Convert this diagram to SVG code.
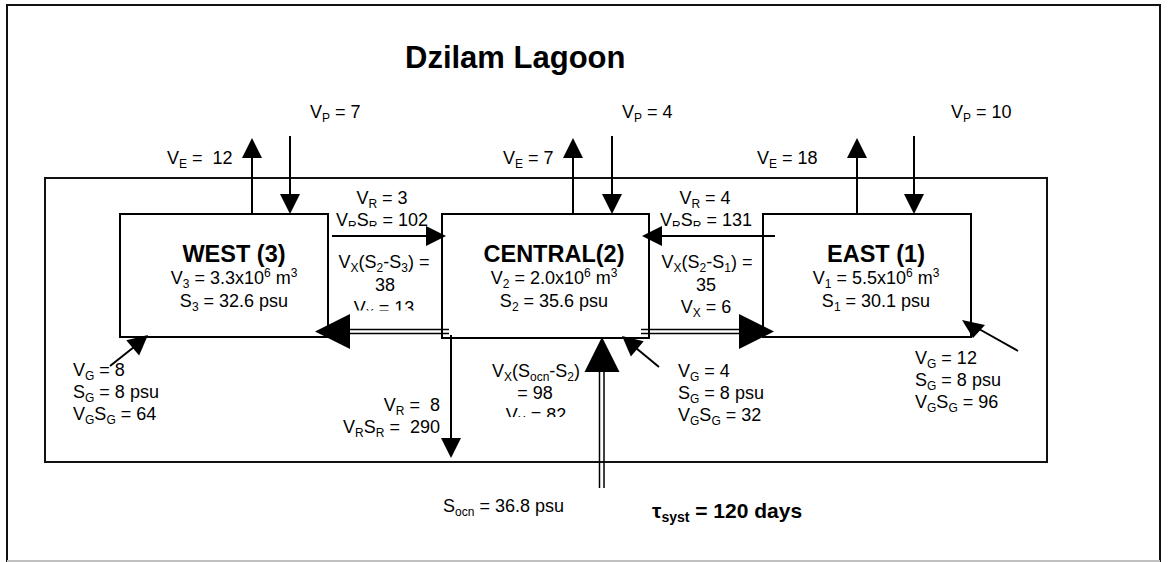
<svg xmlns="http://www.w3.org/2000/svg" xmlns:xlink="http://www.w3.org/1999/xlink" width="1169" height="562" viewBox="0 0 1169 562">
<style>
text{font-family:"Liberation Sans",Arial,Helvetica,sans-serif;font-size:18px;fill:#000;white-space:pre}
.b{font-weight:bold;font-size:23.5px}
.title{font-weight:bold;font-size:31px}
.tau{font-weight:bold;font-size:21px}
.s{font-size:12px}
.sb{font-size:14px}
.m{text-anchor:middle}
.e{text-anchor:end}
.box{fill:#fff;stroke:#000;stroke-width:2}
.ln{fill:none;stroke:#000;stroke-width:2}
.dl{fill:none;stroke:#000;stroke-width:1.5}
.frame{fill:none;stroke:#111;stroke-width:2}
.ah{fill:#000}
</style>
<defs>
<path id="ah" d="M0,0 L-20,-10 L-20,10 Z"/>
<path id="ahb" d="M0,0 L-35,-17.5 L-35,17.5 Z"/>
<clipPath id="c102"><rect x="300" y="180" width="160" height="46.5"/></clipPath>
<clipPath id="c131"><rect x="640" y="180" width="140" height="46.5"/></clipPath>
<clipPath id="c13"><rect x="320" y="240" width="130" height="70.5"/></clipPath>
<clipPath id="c82"><rect x="470" y="350" width="130" height="67"/></clipPath>
</defs>
<rect width="1169" height="562" fill="#fff"/>
<g id="frame">
<path class="frame" d="M7,562 V5 H1160 V562"/>
<line x1="7" y1="561" x2="1160" y2="561" stroke="#c0c0c0" stroke-width="2"/>
<rect class="frame" x="45" y="178" width="1002" height="284"/>
</g>
<text id="title" class="title" x="405" y="68">Dzilam Lagoon</text>
<g id="west">
<rect class="box" x="120" y="214" width="208" height="123"/>
<text class="b m" x="234" y="262">WEST (3)</text>
<text class="m" x="234" y="284">V<tspan class="s" dy="4">3</tspan><tspan dy="-4"> = 3.3x10</tspan><tspan class="s" dy="-7">6</tspan><tspan dy="7"> m</tspan><tspan class="s" dy="-7">3</tspan></text>
<text class="m" x="234" y="307">S<tspan class="s" dy="4">3</tspan><tspan dy="-4"> = 32.6 psu</tspan></text>
</g>
<g id="central">
<rect class="box" x="442" y="214" width="207" height="124"/>
<text class="b m" x="554" y="262">CENTRAL(2)</text>
<text class="m" x="554" y="284">V<tspan class="s" dy="4">2</tspan><tspan dy="-4"> = 2.0x10</tspan><tspan class="s" dy="-7">6</tspan><tspan dy="7"> m</tspan><tspan class="s" dy="-7">3</tspan></text>
<text class="m" x="554" y="307">S<tspan class="s" dy="4">2</tspan><tspan dy="-4"> = 35.6 psu</tspan></text>
</g>
<g id="east">
<rect class="box" x="763" y="214" width="208" height="123"/>
<text class="b m" x="876" y="262">EAST (1)</text>
<text class="m" x="876" y="284">V<tspan class="s" dy="4">1</tspan><tspan dy="-4"> = 5.5x10</tspan><tspan class="s" dy="-7">6</tspan><tspan dy="7"> m</tspan><tspan class="s" dy="-7">3</tspan></text>
<text class="m" x="876" y="307">S<tspan class="s" dy="4">1</tspan><tspan dy="-4"> = 30.1 psu</tspan></text>
</g>
<g id="connectors">
<!-- evaporation / precipitation -->
<line class="ln" x1="252" y1="214" x2="252" y2="156"/>
<use href="#ah" class="ah" transform="translate(252,138) rotate(-90)"/>
<line class="ln" x1="290" y1="136" x2="290" y2="196"/>
<use href="#ah" class="ah" transform="translate(290,214) rotate(90)"/>
<line class="ln" x1="573" y1="214" x2="573" y2="156"/>
<use href="#ah" class="ah" transform="translate(573,138) rotate(-90)"/>
<line class="ln" x1="612" y1="136" x2="612" y2="196"/>
<use href="#ah" class="ah" transform="translate(612,214) rotate(90)"/>
<line class="ln" x1="857" y1="214" x2="857" y2="156"/>
<use href="#ah" class="ah" transform="translate(857,138) rotate(-90)"/>
<line class="ln" x1="914" y1="136" x2="914" y2="196"/>
<use href="#ah" class="ah" transform="translate(914,214) rotate(90)"/>
<!-- residual flows -->
<line class="ln" x1="332" y1="236" x2="428" y2="236"/>
<use href="#ah" class="ah" transform="translate(446,236)"/>
<line class="ln" x1="775" y1="236" x2="660" y2="236"/>
<use href="#ah" class="ah" transform="translate(642,236) rotate(180)"/>
<line class="ln" x1="451" y1="335" x2="451" y2="440"/>
<use href="#ah" class="ah" transform="translate(451,458) rotate(90)"/>
<!-- exchange flows -->
<line class="dl" x1="349" y1="329.5" x2="449" y2="329.5"/>
<line class="dl" x1="349" y1="333.5" x2="449" y2="333.5"/>
<use href="#ahb" class="ah" transform="translate(315,331.5) rotate(180)"/>
<line class="dl" x1="641" y1="329.5" x2="740" y2="329.5"/>
<line class="dl" x1="641" y1="333.5" x2="740" y2="333.5"/>
<use href="#ahb" class="ah" transform="translate(774,331.5)"/>
<line class="dl" x1="599.5" y1="371" x2="599.5" y2="488"/>
<line class="dl" x1="604" y1="371" x2="604" y2="488"/>
<use href="#ahb" class="ah" transform="translate(602,337) rotate(-90)"/>
<!-- groundwater -->
<line class="ln" x1="110" y1="366" x2="134" y2="347"/>
<use href="#ah" class="ah" transform="translate(148,335) rotate(-40)"/>
<line class="ln" x1="659" y1="367" x2="636" y2="348"/>
<use href="#ah" class="ah" transform="translate(622,336) rotate(220)"/>
<line class="ln" x1="1018" y1="351" x2="979" y2="329"/>
<polygon class="ah" points="962,320 985,325 973,338"/>
</g>
<g id="labels">
<text x="310" y="118">V<tspan class="s" dy="4">P</tspan><tspan dy="-4"> = 7</tspan></text>
<text x="167" y="164">V<tspan class="s" dy="4">E</tspan><tspan dy="-4"> =  12</tspan></text>
<text x="622" y="118">V<tspan class="s" dy="4">P</tspan><tspan dy="-4"> = 4</tspan></text>
<text x="503" y="164">V<tspan class="s" dy="4">E</tspan><tspan dy="-4"> = 7</tspan></text>
<text x="951" y="118">V<tspan class="s" dy="4">P</tspan><tspan dy="-4"> = 10</tspan></text>
<text x="757" y="164">V<tspan class="s" dy="4">E</tspan><tspan dy="-4"> = 18</tspan></text>

<text class="m" x="382" y="204">V<tspan class="s" dy="4">R</tspan><tspan dy="-4"> = 3</tspan></text>
<text class="m" x="382" y="226" clip-path="url(#c102)">V<tspan class="s" dy="4">R</tspan><tspan dy="-4">S</tspan><tspan class="s" dy="4">R</tspan><tspan dy="-4"> = 102</tspan></text>
<text class="m" x="384" y="268">V<tspan class="s" dy="4">X</tspan><tspan dy="-4">(S</tspan><tspan class="s" dy="4">2</tspan><tspan dy="-4">-S</tspan><tspan class="s" dy="4">3</tspan><tspan dy="-4">) =</tspan></text>
<text class="m" x="385" y="291">38</text>
<text class="m" x="384" y="314" clip-path="url(#c13)">V<tspan class="s" dy="4">X</tspan><tspan dy="-4"> = 13</tspan></text>

<text class="m" x="705" y="204">V<tspan class="s" dy="4">R</tspan><tspan dy="-4"> = 4</tspan></text>
<text class="m" x="706" y="226" clip-path="url(#c131)">V<tspan class="s" dy="4">R</tspan><tspan dy="-4">S</tspan><tspan class="s" dy="4">R</tspan><tspan dy="-4"> = 131</tspan></text>
<text class="m" x="707" y="268">V<tspan class="s" dy="4">X</tspan><tspan dy="-4">(S</tspan><tspan class="s" dy="4">2</tspan><tspan dy="-4">-S</tspan><tspan class="s" dy="4">1</tspan><tspan dy="-4">) =</tspan></text>
<text class="m" x="706" y="291">35</text>
<text class="m" x="706" y="313">V<tspan class="s" dy="4">X</tspan><tspan dy="-4"> = 6</tspan></text>

<text x="73" y="376">V<tspan class="s" dy="4">G</tspan><tspan dy="-4"> = 8</tspan></text>
<text x="73" y="398">S<tspan class="s" dy="4">G</tspan><tspan dy="-4"> = 8 psu</tspan></text>
<text x="73" y="420">V<tspan class="s" dy="4">G</tspan><tspan dy="-4">S</tspan><tspan class="s" dy="4">G</tspan><tspan dy="-4"> = 64</tspan></text>

<text x="678" y="377">V<tspan class="s" dy="4">G</tspan><tspan dy="-4"> = 4</tspan></text>
<text x="678" y="399">S<tspan class="s" dy="4">G</tspan><tspan dy="-4"> = 8 psu</tspan></text>
<text x="678" y="421">V<tspan class="s" dy="4">G</tspan><tspan dy="-4">S</tspan><tspan class="s" dy="4">G</tspan><tspan dy="-4"> = 32</tspan></text>

<text x="915" y="364">V<tspan class="s" dy="4">G</tspan><tspan dy="-4"> = 12</tspan></text>
<text x="915" y="386">S<tspan class="s" dy="4">G</tspan><tspan dy="-4"> = 8 psu</tspan></text>
<text x="915" y="408">V<tspan class="s" dy="4">G</tspan><tspan dy="-4">S</tspan><tspan class="s" dy="4">G</tspan><tspan dy="-4"> = 96</tspan></text>

<text class="m" x="536" y="377">V<tspan class="s" dy="4">X</tspan><tspan dy="-4">(S</tspan><tspan class="s" dy="4">ocn</tspan><tspan dy="-4">-S</tspan><tspan class="s" dy="4">2</tspan><tspan dy="-4">)</tspan></text>
<text class="m" x="535" y="399">= 98</text>
<text class="m" x="536" y="421" clip-path="url(#c82)">V<tspan class="s" dy="4">X</tspan><tspan dy="-4"> = 82</tspan></text>

<text class="e" x="440" y="411">V<tspan class="s" dy="4">R</tspan><tspan dy="-4"> =  8</tspan></text>
<text class="e" x="440" y="433">V<tspan class="s" dy="4">R</tspan><tspan dy="-4">S</tspan><tspan class="s" dy="4">R</tspan><tspan dy="-4"> =  290</tspan></text>

<text x="443" y="512">S<tspan class="s" dy="4">ocn</tspan><tspan dy="-4"> = 36.8 psu</tspan></text>
<text class="tau" x="652" y="518">τ<tspan class="sb" dy="4">syst</tspan><tspan dy="-4"> = 120 days</tspan></text>
</g>
</svg>
